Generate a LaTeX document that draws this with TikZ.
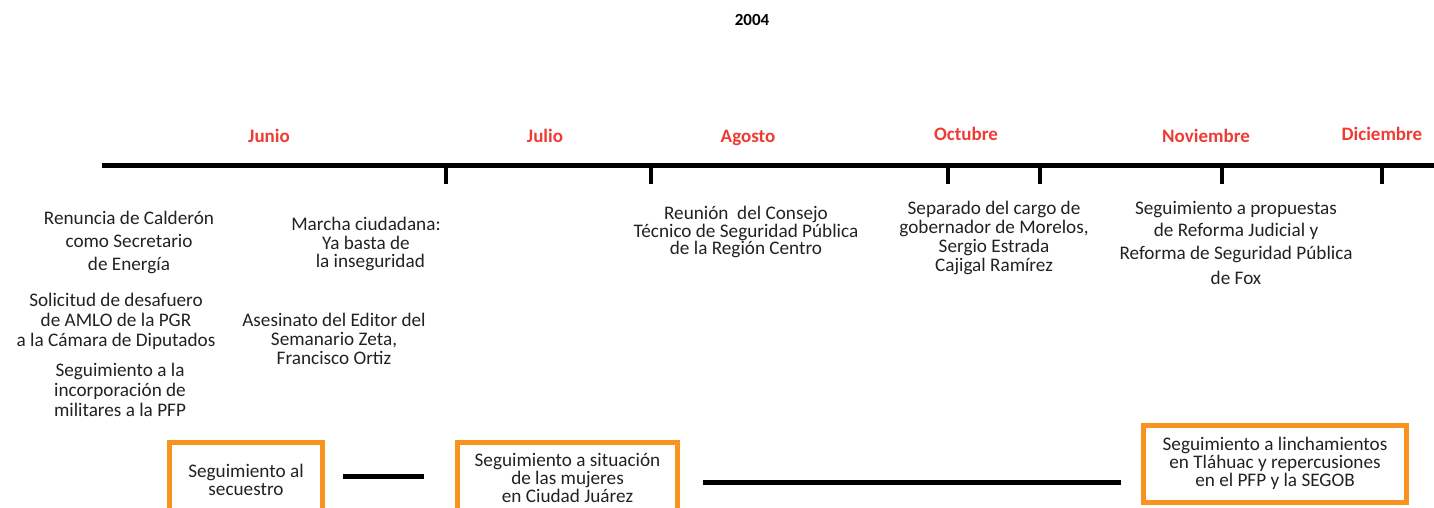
\documentclass[tikz,border=0pt]{standalone}
\usepackage{fontspec}
\setmainfont{Carlito}
\definecolor{mesrojo}{HTML}{EE3B33}
\definecolor{cajanaranja}{HTML}{F7931E}
\definecolor{textogris}{HTML}{222222}
\begin{document}
\begin{tikzpicture}[x=0.5pt,y=-0.5pt,
  mes/.style={text=mesrojo,font=\fontsize{9.5}{11}\selectfont\bfseries,inner sep=0pt},
  evento/.style={text=textogris,align=center,inner sep=0pt,font=\fontsize{9.6}{10}\selectfont},
  caja/.style={draw=cajanaranja,line width=2.5pt,text=textogris,align=center,anchor=north,
    inner sep=2pt,font=\fontsize{9.6}{9}\selectfont},
  raya/.style={line width=2.5pt},
  marca/.style={line width=2pt}]
\useasboundingbox (0,0) rectangle (1434,508);

%titulo
\node[font=\fontsize{8.5}{10}\selectfont\bfseries,inner sep=0pt] (anio) at (752,20) {2004};

%meses
\node[mes] (junio) at (269,136) {Junio};
\node[mes] (julio) at (545,136) {Julio};
\node[mes] (agosto) at (748,138) {Agosto};
\node[mes] (octubre) at (966,134) {Octubre};
\node[mes] (noviembre) at (1206,136) {Noviembre};
\node[mes] (diciembre) at (1382,134) {Diciembre};

%linea del tiempo
\coordinate (ini) at (102,165);
\coordinate (fin) at (1434,165);
\draw[raya] (ini) -- (fin);
\foreach \x in {446,651,948,1040,1222,1382}
  \draw[marca] (\x,165) -- (\x,184);

%eventos
\node[evento,font=\fontsize{9.6}{11.5}\selectfont] (renuncia) at (129,242)
  {Renuncia de Calderón\\como Secretario\\de Energía};
\node[evento] (desafuero) at (116,321)
  {Solicitud de desafuero\\de AMLO de la PGR\\a la Cámara de Diputados};
\node[evento] (militares) at (120,390)
  {Seguimiento a la\\incorporación de\\militares a la PFP};
\node[evento,font=\fontsize{9.6}{9.2}\selectfont] (marcha) at (366,244)
  {Marcha ciudadana:\\Ya basta de\\\ \ la inseguridad};
\node[evento,font=\fontsize{9.6}{9.5}\selectfont] (asesinato) at (334,339)
  {Asesinato del Editor del\\Semanario Zeta,\\Francisco Ortiz};
\node[evento,font=\fontsize{9.6}{8.8}\selectfont] (reunion) at (746,232)
  {Reunión\ \ del Consejo\\Técnico de Seguridad Pública\\de la Región Centro};
\node[evento,font=\fontsize{9.6}{9.5}\selectfont] (separado) at (994,238)
  {Separado del cargo de\\gobernador de Morelos,\\Sergio Estrada\\Cajigal Ramírez};
\node[evento,font=\fontsize{9.6}{11.2}\selectfont] (propuestas) at (1236,243)
  {Seguimiento a propuestas\\de Reforma Judicial y\\Reforma de Seguridad Pública\\[1.5pt]de Fox};

%seguimientos
\node[caja,minimum width=76.5pt,minimum height=37.5pt] (secuestro) at (246,439.5)
  {Seguimiento al\\secuestro};
\node[caja,minimum width=110pt,minimum height=35.5pt] (juarez) at (567.5,439.5)
  {Seguimiento a situación\\de las mujeres\\en Ciudad Juárez};
\node[caja,minimum width=131.5pt,minimum height=38.5pt] (tlahuac) at (1275,422.5)
  {Seguimiento a linchamientos\\en Tláhuac y repercusiones\\en el PFP y la SEGOB};

\coordinate (nivelA) at (0,476);
\coordinate (nivelB) at (0,482);
\draw[raya] ([xshift=9pt]secuestro.east |- nivelA) -- ([xshift=-15.5pt]juarez.west |- nivelA);
\draw[raya] ([xshift=11.5pt]juarez.east |- nivelB) -- ([xshift=-10pt]tlahuac.west |- nivelB);
\end{tikzpicture}
\end{document}
